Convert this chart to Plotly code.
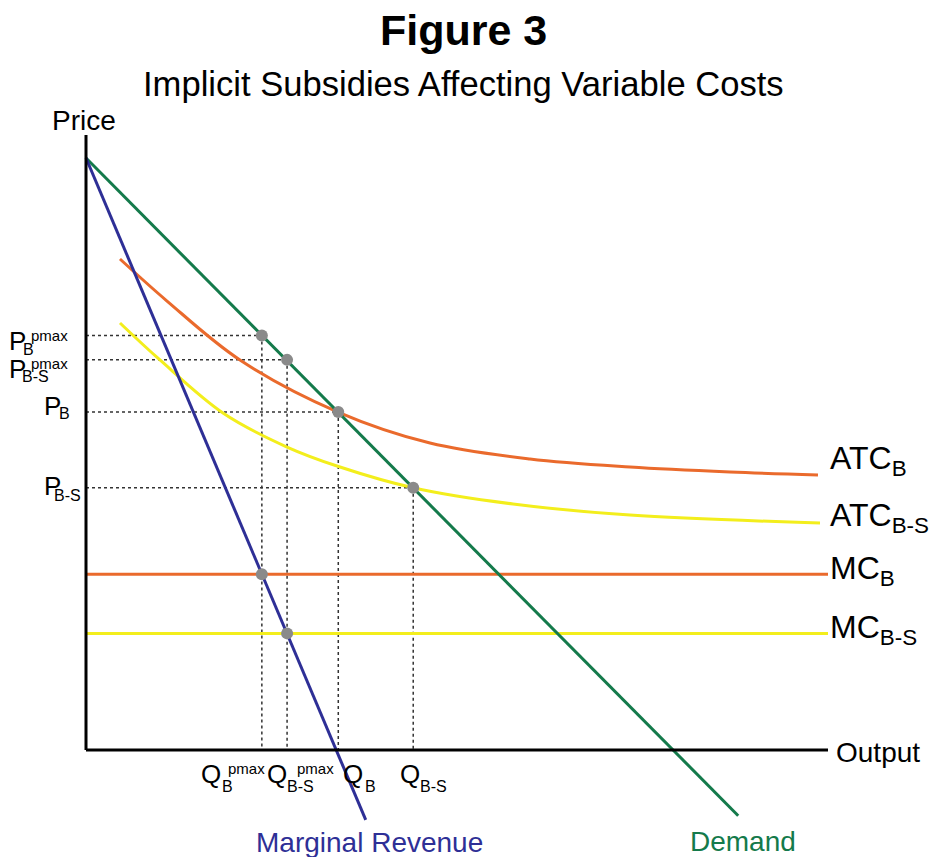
import plotly.graph_objects as go

# ---------------- data (economic units) ----------------
# Output axis runs 0..100, price axis: demand intercept = 100
demand_q = [0, 87.9]
demand_p = [100, -11.1]
mr_q = [0, 37.7]
mr_p = [100, -11.8]

atc_b_q = [4.58, 10.92, 20.75, 33.96, 46.36, 59.84, 73.32, 86.79, 98.65]
atc_b_p = [82.94, 75.84, 65.88, 57.09, 51.86, 49.16, 47.80, 46.96, 46.45]
atc_bs_q = [4.58, 9.97, 18.46, 27.09, 34.23, 44.07, 57.55, 73.32, 98.92]
atc_bs_p = [72.13, 65.88, 56.93, 51.18, 47.80, 44.30, 41.55, 39.70, 38.34]

mc_q = [0, 100]
mc_b = 29.7
mc_bs = 19.7

q_pmax_b, q_pmax_bs, q_b, q_bs = 23.7, 27.1, 34.0, 44.1
p_pmax_b, p_pmax_bs, p_b, p_bs = 70.0, 65.9, 57.1, 44.3

axis_q_end = 100
axis_p_end = 103.9

# ---------------- styling ----------------
ORANGE = "#ea6a2c"
YELLOW = "#f3ee1c"
GREEN = "#147a4b"
BLUE = "#2e2f96"
GREY = "#8a8a8a"
FONT = "Liberation Sans, Arial, sans-serif"

PAGE = 8                  # page body margin in the browser
W, H = 946 - PAGE, 857 - PAGE
OX, OY = 86 - PAGE, 750 - PAGE   # pixel position of origin inside figure
XU, YU = 7.42, 5.92       # pixels per unit

fig = go.Figure()

def line(x, y, color, width=3, dash=None, shape="linear", smoothing=1.0):
    fig.add_trace(go.Scatter(x=x, y=y, mode="lines",
                             line=dict(color=color, width=width, dash=dash, shape=shape,
                                       smoothing=smoothing),
                             hoverinfo="skip", showlegend=False))

# dotted guides
for q, p in [(q_pmax_b, p_pmax_b), (q_pmax_bs, p_pmax_bs), (q_b, p_b), (q_bs, p_bs)]:
    line([0, q], [p, p], "#333333", width=1.5, dash="dot")
    line([q, q], [p, 0], "#333333", width=1.5, dash="dot")

# curves
line(atc_b_q, atc_b_p, ORANGE, shape="spline", smoothing=1.0)
line(atc_bs_q, atc_bs_p, YELLOW, shape="spline", smoothing=1.0)
line(mc_q, [mc_b, mc_b], ORANGE)
line(mc_q, [mc_bs, mc_bs], YELLOW)
line(demand_q, demand_p, GREEN)
line(mr_q, mr_p, BLUE)

# axes
line([0, 0], [0, axis_p_end], "black", width=3)
line([0, axis_q_end], [0, 0], "black", width=3)

# dots
fig.add_trace(go.Scatter(
    x=[q_pmax_b, q_pmax_bs, q_b, q_bs, q_pmax_b, q_pmax_bs],
    y=[p_pmax_b, p_pmax_bs, p_b, p_bs, mc_b, mc_bs],
    mode="markers", marker=dict(color=GREY, size=12),
    hoverinfo="skip", showlegend=False))

ann = []

def lab(text, x, y, cx, cy, size, color="black", anchor="center"):
    # cx, cy: pixel offset of text centre from the data point (cy positive = down)
    ann.append(dict(text=text, x=x, y=y, xref="x", yref="y", showarrow=False,
                    xanchor=anchor, yanchor="middle", xshift=cx, yshift=-cy,
                    font=dict(family=FONT, size=size, color=color)))

# left price labels (P, subscript, superscript stacked)
REF_OX = 86
lab("P", 0, p_pmax_b, 17.5 - REF_OX, 5.5, 26)
lab("pmax", 0, p_pmax_b, 49 - REF_OX, 0, 15)
lab("B", 0, p_pmax_b, 28.5 - REF_OX, 14, 16)
lab("P", 0, p_pmax_bs, 17.5 - REF_OX, 9, 26)
lab("pmax", 0, p_pmax_bs, 49 - REF_OX, 4, 15)
lab("B-S", 0, p_pmax_bs, 35 - REF_OX, 17, 16)
lab("P", 0, p_b, 52.5 - REF_OX, -5.5, 26)
lab("B", 0, p_b, 64.5 - REF_OX, 2, 16)
lab("P", 0, p_bs, 52.5 - REF_OX, -2, 26)
lab("B-S", 0, p_bs, 67 - REF_OX, 7.5, 16)

# bottom quantity labels
def qlab(q, qpx, qx, supx, subx, sub, sup=True):
    lab("Q", q, 0, qx - qpx, 24, 26)
    if sup:
        lab("pmax", q, 0, supx - qpx, 18, 15)
    lab(sub, q, 0, subx - qpx, 36, 16)

qlab(q_pmax_b, 262, 211, 247, 227.5, "B")
qlab(q_pmax_bs, 287, 276.5, 315, 300.5, "B-S")
qlab(q_b, 338, 353, 0, 370, "B", sup=False)
qlab(q_bs, 413, 410, 0, 433.5, "B-S", sup=False)

# right curve labels
lab("ATC<sub>B</sub>", axis_q_end, atc_b_p[-1], 0, -15, 32, anchor="left")
lab("ATC<sub>B-S</sub>", axis_q_end, atc_bs_p[-1], 0, -6, 32, anchor="left")
lab("MC<sub>B</sub>", axis_q_end, mc_b, 0, -4, 32, anchor="left")
lab("MC<sub>B-S</sub>", axis_q_end, mc_bs, 0, -4, 32, anchor="left")

# axis titles / curve names
lab("Price", 0, axis_p_end, 84 - REF_OX, 121 - 135, 28)
lab("Output", axis_q_end, 0, 6, 2, 28, anchor="left")
lab("Marginal Revenue", mr_q[-1], mr_p[-1], 370 - 366, 843 - 820, 28, color=BLUE)
lab("Demand", demand_q[-1], demand_p[-1], 743 - 738, 843 - 817, 28, color=GREEN)

# titles
ann.append(dict(text="<b>Figure 3</b>", x=(463 - PAGE) / W, y=1 - (30 - PAGE) / H,
                xref="paper", yref="paper", showarrow=False, xanchor="center", yanchor="middle",
                font=dict(family=FONT, size=43, color="black")))
ann.append(dict(text="Implicit Subsidies Affecting Variable Costs", x=(463 - PAGE) / W,
                y=1 - (84 - PAGE) / H, xref="paper", yref="paper", showarrow=False,
                xanchor="center", yanchor="middle",
                font=dict(family=FONT, size=34.6, color="black")))

fig.update_layout(
    width=W, height=H, margin=dict(l=0, r=0, t=0, b=0),
    paper_bgcolor="white", plot_bgcolor="white",
    xaxis=dict(range=[-OX / XU, (W - OX) / XU], visible=False, fixedrange=True),
    yaxis=dict(range=[(OY - H) / YU, OY / YU], visible=False, fixedrange=True),
    annotations=ann, showlegend=False,
)

fig.write_html("out.html")
